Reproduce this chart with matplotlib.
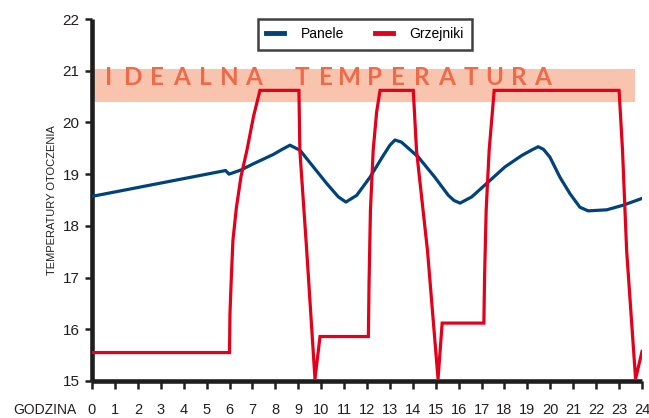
import matplotlib
matplotlib.use("Agg")
from matplotlib import pyplot as plt
from matplotlib.lines import Line2D

# godziny / temperatury
godziny_panele = [0, 5.83, 5.98, 6.5, 7.04, 7.33, 7.91, 8.3, 8.64, 9.08, 9.66, 10.24, 10.75, 11.08,
                  11.55, 12.13, 12.71, 13.0, 13.22, 13.5, 13.73, 14.24, 14.96, 15.55, 15.8, 16.06,
                  16.57, 17.22, 18.02, 18.75, 19.2, 19.47, 19.7, 19.98, 20.42, 20.86, 21.29, 21.65,
                  22.46, 23.18, 24.0]
temp_panele = [18.57, 19.07, 19.0, 19.08, 19.2, 19.26, 19.38, 19.48, 19.56, 19.46, 19.14, 18.82, 18.56, 18.46,
               18.59, 18.94, 19.36, 19.56, 19.66, 19.62, 19.53, 19.33, 18.94, 18.59, 18.49, 18.44,
               18.56, 18.82, 19.14, 19.36, 19.47, 19.53, 19.48, 19.33, 18.94, 18.62, 18.36, 18.29,
               18.31, 18.40, 18.53]

godziny_grzejniki = [0, 6.0, 6.02, 6.08, 6.15, 6.3, 6.5, 6.76, 7.05, 7.33, 9.03, 9.07, 9.37, 9.73, 9.95,
                     12.06, 12.09, 12.15, 12.27, 12.42, 12.57, 14.02, 14.16, 14.64, 15.1, 15.28,
                     17.1, 17.13, 17.2, 17.33, 17.55, 23.0, 23.15, 23.33, 23.72, 24.0]
temp_grzejniki = [15.55, 15.55, 16.3, 17.0, 17.72, 18.35, 18.95, 19.46, 20.12, 20.62, 20.62, 19.46, 17.52, 15.04, 15.86,
                  15.86, 16.9, 18.3, 19.46, 20.2, 20.62, 20.62, 19.46, 17.52, 15.04, 16.12,
                  16.12, 17.0, 18.3, 19.46, 20.62, 20.62, 19.46, 17.52, 15.04, 15.57]

pasmo_od, pasmo_do = 20.4, 21.03
pasmo_x = (0, 23.7)
napis = "IDEALNA TEMPERATURA"

x_ticks = list(range(0, 25))
y_ticks = list(range(15, 23))

niebieski = "#00427a"
czerwony = "#e3001b"
tekst = "#231f20"

plt.rcParams['font.family'] = ['Liberation Sans', 'DejaVu Sans']

fig = plt.figure(figsize=(6.49, 4.18), dpi=100)
ax = fig.add_axes([92 / 649, 1 - 381 / 418, 550 / 649, 362 / 418])

ax.fill_between(pasmo_x, pasmo_od, pasmo_do, color="#f8c4ad", lw=0, zorder=1)

# napis w pasku, litera po literze
poz = 0
for ch in napis:
    if ch != " ":
        ax.text((109 + 24.1 * poz - 92) / 550, 20.87, ch, transform=ax.get_yaxis_transform(),
                ha="center", va="center", fontsize=17.5, fontweight="bold",
                family=["Lato", "DejaVu Sans"], color="#ee6a4b", zorder=2)
    poz += 1

ax.plot(godziny_panele, temp_panele, color=niebieski, lw=2.3, zorder=3, solid_joinstyle="round")
ax.plot(godziny_grzejniki, temp_grzejniki, color=czerwony, lw=2.3, zorder=4, solid_joinstyle="miter")

ax.set_xlim(0, 24)
ax.set_ylim(15, 22)
ax.set_xticks(x_ticks)
ax.set_yticks(y_ticks)
ax.tick_params(axis="x", direction="out", length=6, width=1.8, pad=10, labelsize=10.5, colors=tekst)
ax.tick_params(axis="y", direction="out", length=5, width=1.8, pad=4, labelsize=11, colors=tekst)
for s in ["top", "right"]:
    ax.spines[s].set_visible(False)
for s in ["left", "bottom"]:
    ax.spines[s].set_linewidth(3.3)
    ax.spines[s].set_color("#1e1e1e")
    ax.spines[s].set_capstyle("butt")

ax.set_ylabel("TEMPERATURY OTOCZENIA", fontsize=8, labelpad=4, color=tekst)
fig.text(13 / 649, 1 - 410 / 418, "GODZINA", fontsize=10, va="center", ha="left", color=tekst)

uchwyty = [Line2D([], [], color=niebieski, lw=3.5), Line2D([], [], color=czerwony, lw=3.5)]
leg = ax.legend(uchwyty, ["Panele", "Grzejniki"], loc="upper left",
                bbox_to_anchor=((258 - 92) / 550, 1 - 0 / 362), ncol=2, fontsize=10,
                frameon=True, fancybox=False, handlelength=1.3, columnspacing=2.2,
                borderpad=0.6, handletextpad=1.2, borderaxespad=0)
leg.get_frame().set_edgecolor("#111111")
leg.get_frame().set_linewidth(1.8)

fig.savefig("out.png", dpi=100)
